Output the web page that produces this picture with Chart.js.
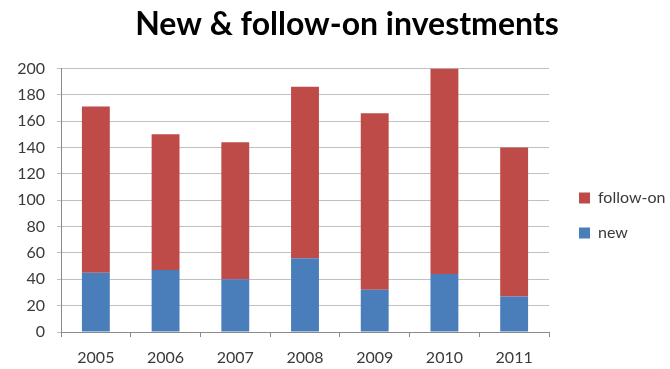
<!DOCTYPE html>
<html>
<head>
    <title>New & follow-on investments</title>
    <style>
        body {
            margin: 0;
            background: #ffffff;
        }
        #chart-container {
            width: 670px;
            height: 369px;
        }
    </style>
</head>
<body>
<div id="chart-container">
    <canvas id="investChart" width="670" height="369"></canvas>
</div>

<script src="https://cdn.jsdelivr.net/npm/chart.js"></script>

<script>
    // investments per year, split into new and follow-on
    const years = ['2005', '2006', '2007', '2008', '2009', '2010', '2011'];
    const newInvestments = [45, 47, 40, 56, 32, 44, 27];
    const followOnInvestments = [126, 103, 104, 130, 134, 156, 113];

    const fontFamily = 'Lato, "Open Sans", sans-serif';
    const textColor = '#3a3a3a';
    const ctx = document.getElementById('investChart').getContext('2d');

    // keep the legend column narrow and sit it a bit lower, next to the plot
    const legendPlacement = {
        id: 'legendPlacement',
        beforeLayout(chart) {
            const legend = chart.legend;
            if (legend && !legend._narrowed) {
                const fit = legend.fit;
                legend.fit = function () {
                    fit.call(this);
                    this.width = 131;
                };
                legend._narrowed = true;
            }
        },
        afterLayout(chart) {
            const legend = chart.legend;
            if (legend) {
                legend.left += 11;
                legend.top += 64;
            }
        }
    };

    new Chart(ctx, {
        type: 'bar',
        data: {
            labels: years,
            datasets: [
                {
                    label: 'new',
                    data: newInvestments,
                    backgroundColor: '#4a7ebb',
                    barPercentage: 0.4,
                    categoryPercentage: 1.0
                },
                {
                    label: 'follow-on',
                    data: followOnInvestments,
                    backgroundColor: '#be4b48',
                    barPercentage: 0.4,
                    categoryPercentage: 1.0
                }
            ]
        },
        options: {
            responsive: false,
            animation: false,
            layout: {
                padding: { left: 14, right: -10, top: 0, bottom: 2 }
            },
            plugins: {
                title: {
                    display: true,
                    text: 'New & follow-on investments',
                    color: '#000000',
                    font: { family: fontFamily, size: 32, weight: 'bold' },
                    padding: { top: 5, bottom: 25 }
                },
                legend: {
                    position: 'right',
                    reverse: true,
                    labels: {
                        boxWidth: 11,
                        boxHeight: 11,
                        padding: 19,
                        color: textColor,
                        font: { family: fontFamily, size: 16 }
                    }
                },
                tooltip: { enabled: false }
            },
            scales: {
                x: {
                    stacked: true,
                    afterFit(scale) {
                        scale.height = 35;
                    },
                    grid: {
                        display: true,
                        drawOnChartArea: false,
                        tickLength: 5,
                        color: '#8a8a8a'
                    },
                    border: { color: '#8a8a8a' },
                    ticks: {
                        color: textColor,
                        padding: 11,
                        font: { family: fontFamily, size: 16 }
                    }
                },
                y: {
                    stacked: true,
                    min: 0,
                    max: 200,
                    afterFit(scale) {
                        scale.width = 47;
                    },
                    ticks: {
                        stepSize: 20,
                        color: textColor,
                        padding: 12,
                        font: { family: fontFamily, size: 16 }
                    },
                    grid: {
                        color: '#c0c0c0',
                        tickLength: 4
                    },
                    border: { color: '#8a8a8a' }
                }
            }
        },
        plugins: [legendPlacement]
    });
</script>
</body>
</html>
